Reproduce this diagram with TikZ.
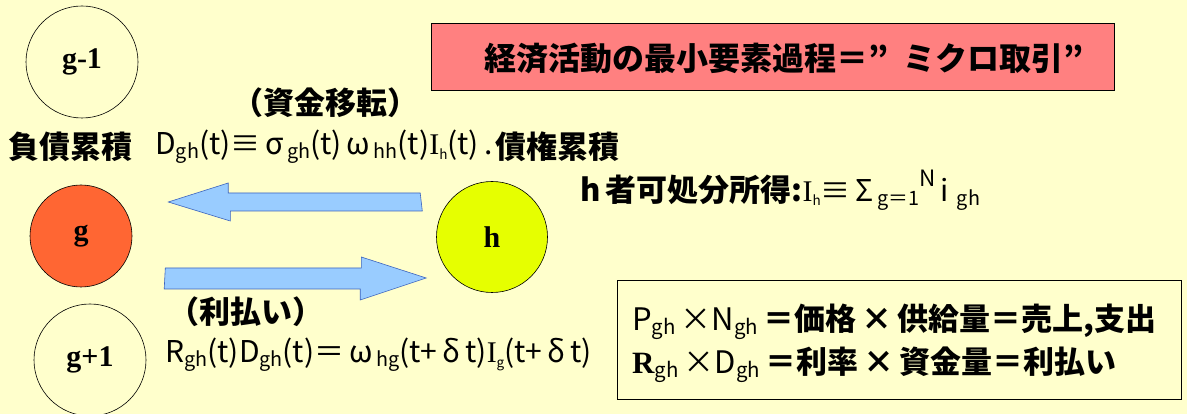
\documentclass[tikz,border=0pt]{standalone}
\usepackage{fontspec}
\usepackage{graphicx}
\setmainfont{Liberation Serif}
\newfontfamily\jp{Noto Sans CJK JP}
\newfontfamily\rmI{Liberation Serif}
\newcommand\sbx[1]{\raisebox{-0.25ex}{\scalebox{0.66}{#1}}}
\newcommand\tinysb[1]{\raisebox{-0.3ex}{\scalebox{0.45}{#1}}}
\definecolor{bg}{RGB}{255,255,204}
\definecolor{pinkbox}{RGB}{255,128,128}
\definecolor{gred}{RGB}{255,102,51}
\definecolor{hyel}{RGB}{230,255,0}
\definecolor{arrfill}{RGB}{153,204,255}
\definecolor{arrline}{RGB}{60,100,190}
\tikzset{
  econ/.style={circle, draw=black, line width=0.6pt, inner sep=0pt, font=\fontsize{30}{32}\selectfont\bfseries},
  blockarrow/.style={fill=arrfill, draw=arrline, line width=0.6pt},
  jplabel/.style={inner sep=0pt, font=\jp\bfseries\fontsize{31}{34}\selectfont},
  formula/.style={inner sep=0pt, font=\jp\fontsize{30}{32}\selectfont},
}
\begin{document}
\begin{tikzpicture}[x=1pt,y=-1pt]
\useasboundingbox (0,0) rectangle (1187,414);
\fill[bg] (0,0) rectangle (1187,414);
% title box
\node[draw=black, fill=pinkbox, line width=0.6pt, minimum width=683pt, minimum height=67pt, inner sep=0pt] (title) at (772.5,56.5) {};
\node[jplabel, font=\jp\bfseries\fontsize{32}{34}\selectfont] (titletext) at (784,58) {経済活動の最小要素過程＝”\hspace{0.45em}ミクロ取引”};
% circles
\node[econ, minimum size=112pt] (gm1) at (82,62) {g-1};
\node[econ, fill=gred, minimum size=102pt] (g) at (81,236) {g};
\node[econ, fill=hyel, minimum size=111pt] (h) at (492,237) {h};
\node[econ, minimum size=112pt] (gp1) at (90,360) {g+1};
% block arrows
\path (h.west) ++(-16,-35) coordinate (a1s);
\path (g.east) ++(36,-34) coordinate (a1t);
\draw[blockarrow] (a1s) ++(0,-9) -- ++(-192,0) -- ++(0,-10) -- (a1t) -- ++(62,19) -- ++(0,-10) -- ++(192,0) -- cycle;
\path (g.east) ++(33,42) coordinate (a2s);
\path (h.west) ++(-10,41) coordinate (a2t);
\draw[blockarrow] (a2s) ++(0,-10) -- ++(196,0) -- ++(0,-11) -- (a2t) -- ++(-66,22) -- ++(0,-11) -- ++(-196,0) -- cycle;
% labels
\node[jplabel] (transfer) at (325,103) {（資金移転）};
\node[jplabel, anchor=west] (debt) at (8,147) {負債累積};
\node[formula, anchor=west] (f1) at (155,147) {D\sbx{gh}(t)≡\,σ\sbx{\,gh}(t)\,ω\sbx{\,hh}(t){\rmI I}\tinysb{h}(t)\,.};
\node[jplabel, anchor=east] (credit) at (620,147) {債権累積};
\node[anchor=west, inner sep=0pt] (income) at (580,190) {{\jp\bfseries\fontsize{31}{34}\selectfont h\,者可処分所得:}{\jp\fontsize{30}{32}\selectfont{\rmI I}\tinysb{h}≡\,Σ\sbx{\,g＝1}\raisebox{0.9ex}{\scalebox{0.75}{N}}\,i\,\sbx{\,gh}}};
\node[jplabel, anchor=west] (interest) at (168,312) {（利払い）};
\node[formula, anchor=west] (f2) at (165,355) {R\sbx{gh}(t)D\sbx{gh}(t)＝\,ω\sbx{\,hg}(t+\,δ\,t){\rmI I}\tinysb{g}(t+\,δ\,t)};
% bottom box
\node[draw=black, line width=0.8pt, minimum width=564pt, minimum height=119pt, inner sep=0pt] (defbox) at (899,340) {};
\node[jplabel, anchor=west] (l1) at (632,322) {{\fontseries{m}\selectfont P\sbx{gh}\,×N\sbx{gh}}\,＝価格\,×\,供給量＝売上,支出};
\node[jplabel, anchor=west] (l2) at (632,365) {{\rmI\bfseries R}{\fontseries{m}\selectfont\sbx{gh}\,×D\sbx{gh}}\,＝利率\,×\,資金量＝利払い};
\end{tikzpicture}
\end{document}
